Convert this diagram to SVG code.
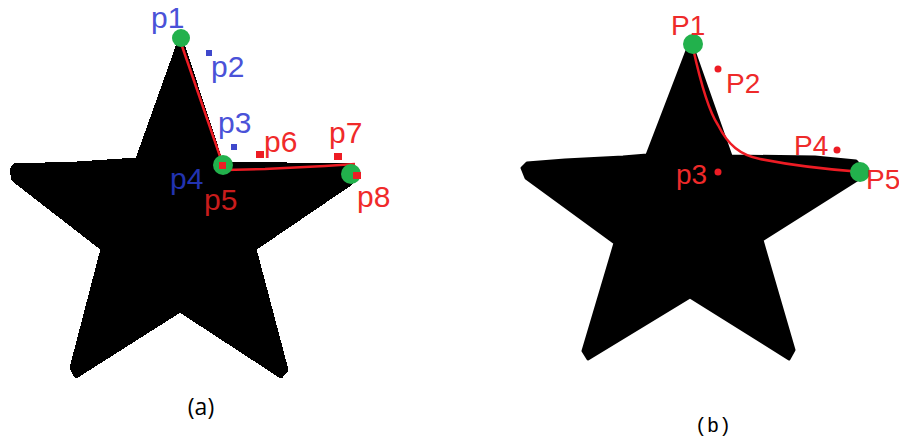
<svg xmlns="http://www.w3.org/2000/svg" width="899" height="443" viewBox="0 0 899 443">
<style>
.star{fill:#000;stroke:#000;stroke-width:3;stroke-linejoin:round}
.g{fill:#22b14c}
.rd{fill:#ed1c24}
.bd{fill:#3f48cc}
.lbl{font-family:"Liberation Sans",Arial,sans-serif;font-size:30px}
.lb{fill:#4a52d8}
.lr{fill:#f02a2a}
.lb2{font-family:"Liberation Sans",Arial,sans-serif;font-size:28px;fill:#ee2a2a}
.line{fill:none;stroke:#ed1c24;stroke-width:2.5}
.cap{font-family:"Open Sans","Liberation Sans",sans-serif;font-size:23px;fill:#000}
.capm{font-family:"Liberation Mono",monospace;font-size:20px;fill:#000}
</style>
<g id="star-a">
<polygon class="star" shape-rendering="crispEdges" points="178,44 183,44 222,163 350,165 356,171 352,183 255,249 287,370 281,377 180,311 76,377 71,368 102,249 13,180 11,170 14,165 77,163 137,159"/>
</g>
<g id="star-b">
<polygon class="star" points="688,48 693,48 731,156 815,157 856,161 864,170 857,180 762,240 794,350 789,359 690,297 588,359 583,351 615,243 526,178 522,168 527,163 565,160 623,157 647,155"/>
</g>
<g id="connectors">
<polyline class="line" points="182,46 223,165"/>
<polyline class="line" points="225,170 265,169 325,166 355,164"/>
<path class="line" d="M693,48 C700,80 708,110 718,125 C728,145 740,155 760,159 C790,165 820,169 862,172"/>
</g>
<g id="p1-a"><circle class="g" cx="181" cy="38" r="9"/><text class="lbl lb" x="151" y="28">p1</text></g>
<g id="p2-a"><rect class="bd" x="206" y="50" width="6" height="6"/><text class="lbl lb" x="211" y="77">p2</text></g>
<g id="p3-a"><rect class="bd" x="231" y="144" width="6" height="6"/><text class="lbl lb" x="218" y="133">p3</text></g>
<g id="p4-a"><circle class="g" cx="223" cy="165" r="10"/><rect class="rd" x="219" y="162" width="7" height="7"/><text class="lbl" fill="#2233b0" x="170" y="189">p4</text></g>
<g id="p5-a"><text class="lbl" fill="#c81c1c" x="204" y="210">p5</text></g>
<g id="p6-a"><rect class="rd" x="256" y="151" width="8" height="7"/><text class="lbl lr" x="264" y="152">p6</text></g>
<g id="p7-a"><rect class="rd" x="334" y="153" width="8" height="7"/><text class="lbl lr" x="329" y="143">p7</text></g>
<g id="p8-a"><circle class="g" cx="351" cy="174" r="10"/><rect class="rd" x="353" y="172" width="8" height="7"/><text class="lbl lr" x="357" y="207">p8</text></g>
<g id="P1-b"><circle class="g" cx="693" cy="44" r="10"/><text class="lb2" x="671" y="35">P1</text></g>
<g id="P2-b"><circle class="rd" cx="718" cy="69" r="3.5"/><text class="lb2" x="726" y="93">P2</text></g>
<g id="p3-b"><circle class="rd" cx="718" cy="172" r="3.5"/><text class="lb2" x="676" y="184">p3</text></g>
<g id="P4-b"><circle class="rd" cx="837" cy="150" r="3.5"/><text class="lb2" x="794" y="155">P4</text></g>
<g id="P5-b"><circle class="g" cx="860" cy="172" r="10"/><text class="lb2" x="866" y="189" font-size="23">P5</text></g>
<text class="cap" x="201" y="415" text-anchor="middle">(a)</text>
<text class="capm" x="695" y="432">(b)</text>
</svg>
